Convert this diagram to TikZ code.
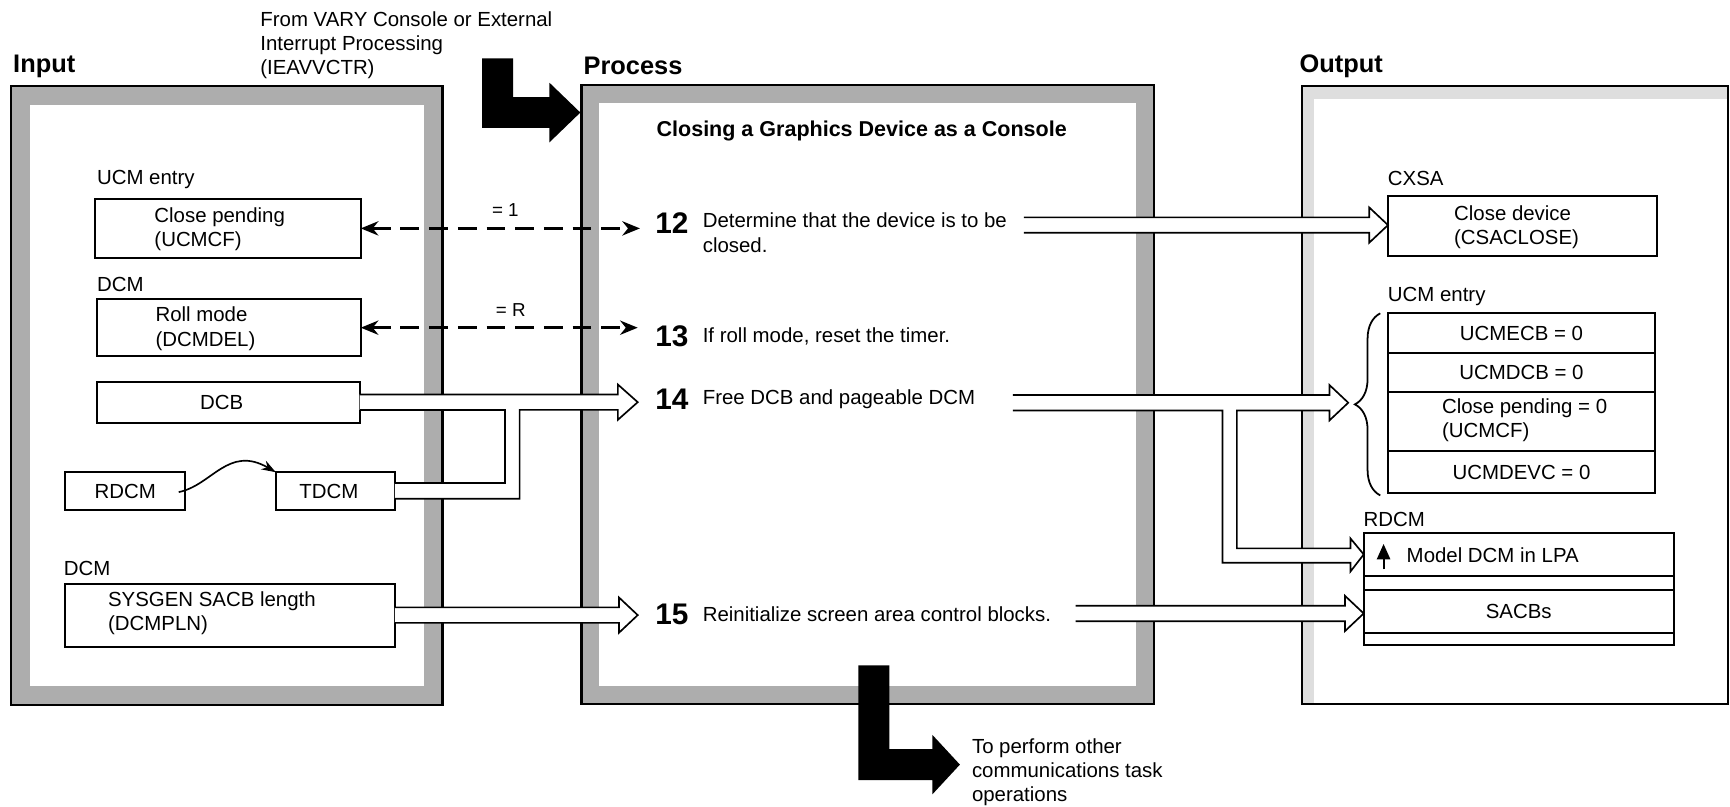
\documentclass[tikz,border=0pt]{standalone}
\usepackage{fontspec}
\setmainfont{Liberation Sans}
\usetikzlibrary{calc,arrows.meta,decorations.pathreplacing}
\definecolor{graybd}{gray}{0.68}
\definecolor{graylt}{gray}{0.87}
\newcommand\hpipe[2]{%
  \draw[pipe, fill=white] let \p1=(#1), \p2=(#2) in
    (\x1,\y1+7pt) -- (\x2-17pt,\y1+7pt) -- (\x2-17pt,\y1+16pt) -- (\x2,\y1)
    -- (\x2-17pt,\y1-16pt) -- (\x2-17pt,\y1-7pt) -- (\x1,\y1-7pt);
}
\begin{document}
\begin{tikzpicture}[x=1pt,y=-1pt,
  every node/.style={inner sep=0pt, outer sep=0pt},
  txt/.style={font=\fontsize{18.5}{22}\selectfont, anchor=west},
  ctxt/.style={font=\fontsize{18.5}{22}\selectfont},
  headtxt/.style={font=\fontsize{23}{27}\selectfont\bfseries, anchor=west},
  num/.style={font=\fontsize{27}{30}\selectfont\bfseries, anchor=west},
  box/.style={draw, line width=1.8pt, anchor=north west, fill=white},
  pipe/.style={line width=1.5pt, line join=miter},
  dasharrow/.style={line width=2.2pt, dash pattern=on 17pt off 9pt,
     {Stealth[length=16pt,width=13pt]}-{Stealth[length=16pt,width=13pt]}},
  panelline/.style={line width=2pt}
]
\useasboundingbox (0,0) rectangle (1568,731);

% ---------- headings ----------
\node[txt, align=left] (from) at (236,41) {From VARY Console or External\\Interrupt Processing\\(IEAVVCTR)};
\node[headtxt] (hin) at (12,60) {Input};
\node[headtxt] (hpr) at (529,60) {Process};
\node[headtxt] (hout) at (1178,60) {Output};

% ---------- panels ----------
\fill[graybd] (10,78) rectangle (401,639);
\fill[white] (27,95) rectangle (384,622);
\draw[panelline] (10,78) rectangle (401,639);

\fill[graybd] (527,77) rectangle (1046,638);
\fill[white] (543,93) rectangle (1030,622);
\draw[panelline] (527,77) rectangle (1046,638);

\fill[graylt] (1180,78) rectangle (1566,638);
\fill[white] (1191,90) rectangle (1566,638);
\draw[line width=1.5pt] (1180,78) rectangle (1566,638);

% ---------- black L arrows ----------
\fill (437,53) -- (465,53) -- (465,88) -- (498,88) -- (498,75) -- (526,102)
  -- (498,129) -- (498,116) -- (437,116) -- cycle;
\fill (778,603) -- (806,603) -- (806,679) -- (845,679) -- (845,666) -- (870,693)
  -- (845,720) -- (845,707) -- (778,707) -- cycle;
\node[txt, align=left] (toperf) at (881,700) {To perform other\\communications task\\operations};

% ---------- input boxes ----------
\node[txt] (lucm) at (88,163) {UCM entry};
\node[box, minimum width=241pt, minimum height=54pt] (cp) at (86,180) {};
\node[txt, align=left] (cpt) at (140,208) {Close pending\\(UCMCF)};
\node[txt] (ldcm1) at (88,258) {DCM};
\node[box, minimum width=239pt, minimum height=52pt] (rm) at (88,271) {};
\node[txt, align=left] (rmt) at (141,298) {Roll mode\\(DCMDEL)};
\node[box, minimum width=238pt, minimum height=37pt] (dcb) at (88,346) {};
\node[ctxt] (dcbt) at ([xshift=-6pt]dcb.center) {DCB};
\node[box, minimum width=109pt, minimum height=34pt] (rdcm) at (59,428) {};
\node[ctxt] (rdcmt) at (rdcm.center) {RDCM};
\node[box, minimum width=108pt, minimum height=34pt] (tdcm) at (250,428) {};
\node[ctxt] (tdcmt) at ([xshift=-6pt]tdcm.center) {TDCM};
\node[txt] (ldcm2) at (58,515) {DCM};
\node[box, minimum width=299pt, minimum height=57pt] (sys) at (59,529) {};
\node[txt, align=left] (syst) at (98,556) {SYSGEN SACB length\\(DCMPLN)};

\draw[line width=1.5pt, -{Stealth[length=13pt,width=9pt]}]
  ($(rdcm.east)+(-6,1)$) .. controls (192,440) and (207,403) .. (tdcm.north west);

% ---------- process text ----------
\node[font=\fontsize{19.5}{23}\selectfont\bfseries] (title) at (781,119) {Closing a Graphics Device as a Console};
\node[num] (n12) at (594,202) {12};
\node[txt, align=left] (t12) at (637,211) {Determine that the device is to be\\closed.};
\node[num] (n13) at (594,305) {13};
\node[txt] (t13) at (637,305) {If roll mode, reset the timer.};
\node[num] (n14) at (594,362) {14};
\node[txt] (t14) at (637,362) {Free DCB and pageable DCM};
\node[num] (n15) at (594,557) {15};
\node[txt] (t15) at (637,557) {Reinitialize screen area control blocks.};

% ---------- output boxes ----------
\node[txt] (lcx) at (1258,162) {CXSA};
\node[box, minimum width=244pt, minimum height=54pt] (cd) at (1258,178) {};
\node[txt, align=left] (cdt) at (1318,206) {Close device\\(CSACLOSE)};

\node[txt] (lucm2) at (1258,269) {UCM entry};
\node[box, minimum width=242pt, minimum height=36pt] (r1) at (1258,284) {};
\node[box, minimum width=242pt, minimum height=35pt] (r2) at (1258,320) {};
\node[box, minimum width=242pt, minimum height=54pt] (r3) at (1258,355) {};
\node[box, minimum width=242pt, minimum height=38pt] (r4) at (1258,409) {};
\node[ctxt] (r1t) at (r1.center) {UCMECB = 0};
\node[ctxt] (r2t) at (r2.center) {UCMDCB = 0};
\node[txt, align=left] (r3t) at (1307,381) {Close pending = 0\\(UCMCF)};
\node[ctxt] (r4t) at (r4.center) {UCMDEVC = 0};
\draw[line width=1.6pt, decorate, decoration={brace, amplitude=23pt}]
  (1251,449) -- (1251,284);
\coordinate (bt) at (1222,365);

\node[txt] (lrd) at (1236,471) {RDCM};
\node[box, minimum width=281pt, minimum height=39pt] (m1) at (1236,483) {};
\node[box, minimum width=281pt, minimum height=13pt] (m2) at (1236,522) {};
\node[box, minimum width=281pt, minimum height=39pt] (m3) at (1236,535) {};
\node[box, minimum width=281pt, minimum height=11pt] (m4) at (1236,574) {};
\draw[line width=1.8pt, -{Triangle[length=14pt,width=12pt]}] (1254,516) -- (1254,493);
\node[txt] (m1t) at (1275,503) {Model DCM in LPA};
\node[ctxt] (m3t) at (m3.center) {SACBs};

% ---------- dashed arrows ----------
\coordinate (e12) at (580,207);
\coordinate (e13) at (578,297);
\draw[dasharrow] (cp.east) -- (e12);
\draw[dasharrow] (rm.east) -- (e13);
\node[font=\fontsize{17}{19}\selectfont] (eq1) at (458,190) {= 1};
\node[font=\fontsize{17}{19}\selectfont] (eq2) at (463,281) {= R};

% ---------- hollow arrows ----------
\coordinate (s12) at (928,204);
\hpipe{s12}{cd.west}

% DCB + TDCM merge -> step 14
\fill[white] ($(dcb.east)+(0,-7)$) -- (560,357.5) -- (560,348.5) -- (578,364.5)
  -- (560,380.5) -- (560,371.5) -- (471,371.5) -- (471,452) -- ($(tdcm.east)+(0,7)$)
  -- ($(tdcm.east)+(0,-7)$) -- (458,438) -- (458,371.5) -- ($(dcb.east)+(0,7)$) -- cycle;
\draw[pipe] ($(dcb.east)+(0,-7)$) -- (560,357.5) -- (560,348.5) -- (578,364.5)
  -- (560,380.5) -- (560,371.5) -- (471,371.5) -- (471,452) -- ($(tdcm.east)+(0,7)$);
\draw[pipe] ($(dcb.east)+(0,7)$) -- (458,371.5) -- (458,438) -- ($(tdcm.east)+(0,-7)$);

% step 14 -> UCM entry and RDCM
\coordinate (s14) at (918,365);
\draw[pipe, fill=white] ($(s14)+(0,-7)$) -- (1205,358) -- (1205,349) -- (bt)
  -- (1205,381) -- (1205,372) -- (1121,372) -- (1121,497) -- (1224,497) -- (1224,488)
  -- (m1.west) -- (1224,518) -- (1224,510) -- (1108,510) -- (1108,372) -- ($(s14)+(0,7)$);

% SYSGEN -> step 15 -> SACBs
\coordinate (e15) at (578,557);
\hpipe{sys.east}{e15}
\coordinate (s15) at (975,556);
\hpipe{s15}{m3.west}

\end{tikzpicture}
\end{document}
